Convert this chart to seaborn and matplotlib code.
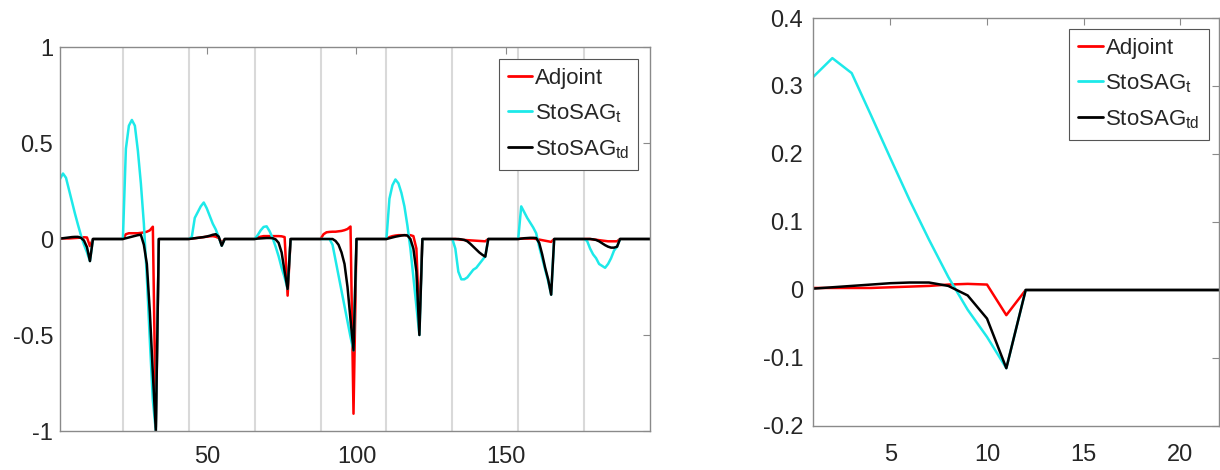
import numpy as np
import pandas as pd
import matplotlib
matplotlib.use('Agg')
import matplotlib.pyplot as plt
import seaborn as sns

# Gradients per time step, 9 wells x 22 steps
adjoint = [
    # well 1
    0.003, 0.003, 0.003, 0.003, 0.004, 0.005, 0.006, 0.008, 0.009, 0.008, -0.037, 0, 0, 0, 0, 0, 0, 0, 0, 0, 0, 0,
    # well 2
    0.025, 0.030, 0.030, 0.030, 0.030, 0.032, 0.034, 0.038, 0.045, 0.064, -0.98, 0, 0, 0, 0, 0, 0, 0, 0, 0, 0, 0,
    # well 3
    0.002, 0.004, 0.006, 0.008, 0.010, 0.012, 0.014, 0.015, 0.012, 0.005, -0.020, 0, 0, 0, 0, 0, 0, 0, 0, 0, 0, 0,
    # well 4
    0.008, 0.012, 0.015, 0.015, 0.015, 0.015, 0.015, 0.015, 0.014, 0.010, -0.295, 0, 0, 0, 0, 0, 0, 0, 0, 0, 0, 0,
    # well 5
    0.025, 0.035, 0.037, 0.038, 0.038, 0.040, 0.042, 0.046, 0.052, 0.065, -0.91, 0, 0, 0, 0, 0, 0, 0, 0, 0, 0, 0,
    # well 6
    0.010, 0.015, 0.018, 0.020, 0.020, 0.020, 0.020, 0.020, 0.015, -0.05, -0.45, 0, 0, 0, 0, 0, 0, 0, 0, 0, 0, 0,
    # well 7
    0.0, -0.002, -0.004, -0.005, -0.006, -0.007, -0.008, -0.009, -0.010, -0.011, -0.012, 0, 0, 0, 0, 0, 0, 0, 0, 0, 0, 0,
    # well 8
    0.002, 0.002, 0.002, 0.002, 0.002, 0.0, -0.003, -0.006, -0.009, -0.012, -0.015, 0, 0, 0, 0, 0, 0, 0, 0, 0, 0, 0,
    # well 9
    0.0, 0.0, -0.002, -0.004, -0.006, -0.008, -0.010, -0.012, -0.012, -0.012, -0.012, 0, 0, 0, 0, 0, 0, 0, 0, 0, 0, 0,
]

stosag_t = [
    0.313, 0.341, 0.319, 0.257, 0.194, 0.132, 0.074, 0.019, -0.029, -0.069, -0.115, 0, 0, 0, 0, 0, 0, 0, 0, 0, 0, 0,
    0.47, 0.59, 0.62, 0.59, 0.46, 0.29, 0.08, -0.20, -0.53, -0.84, -1.0, 0, 0, 0, 0, 0, 0, 0, 0, 0, 0, 0,
    0.01, 0.11, 0.14, 0.17, 0.19, 0.16, 0.12, 0.08, 0.05, 0.01, -0.035, 0, 0, 0, 0, 0, 0, 0, 0, 0, 0, 0,
    0.02, 0.045, 0.063, 0.066, 0.04, 0.005, -0.04, -0.09, -0.15, -0.20, -0.26, 0, 0, 0, 0, 0, 0, 0, 0, 0, 0, 0,
    0.0, 0.0, 0.0, -0.03, -0.11, -0.19, -0.27, -0.35, -0.43, -0.51, -0.58, 0, 0, 0, 0, 0, 0, 0, 0, 0, 0, 0,
    0.21, 0.28, 0.31, 0.29, 0.24, 0.17, 0.07, -0.05, -0.20, -0.35, -0.50, 0, 0, 0, 0, 0, 0, 0, 0, 0, 0, 0,
    -0.05, -0.17, -0.21, -0.21, -0.20, -0.18, -0.16, -0.15, -0.13, -0.11, -0.09, 0, 0, 0, 0, 0, 0, 0, 0, 0, 0, 0,
    0.17, 0.14, 0.11, 0.085, 0.06, 0.03, -0.04, -0.10, -0.16, -0.22, -0.29, 0, 0, 0, 0, 0, 0, 0, 0, 0, 0, 0,
    -0.01, -0.05, -0.08, -0.10, -0.13, -0.14, -0.15, -0.13, -0.10, -0.06, -0.04, 0, 0, 0, 0, 0, 0, 0, 0, 0, 0, 0,
]

stosag_td = [
    0.002, 0.004, 0.006, 0.008, 0.010, 0.011, 0.011, 0.006, -0.008, -0.042, -0.115, 0, 0, 0, 0, 0, 0, 0, 0, 0, 0, 0,
    0.004, 0.008, 0.012, 0.016, 0.020, 0.022, -0.03, -0.13, -0.38, -0.70, -1.0, 0, 0, 0, 0, 0, 0, 0, 0, 0, 0, 0,
    0.002, 0.004, 0.006, 0.008, 0.010, 0.013, 0.017, 0.022, 0.025, 0.012, -0.035, 0, 0, 0, 0, 0, 0, 0, 0, 0, 0, 0,
    0.002, 0.003, 0.004, 0.005, 0.005, 0.004, -0.002, -0.02, -0.07, -0.17, -0.26, 0, 0, 0, 0, 0, 0, 0, 0, 0, 0, 0,
    0.0, 0.0, 0.0, 0.0, -0.01, -0.03, -0.07, -0.13, -0.25, -0.42, -0.58, 0, 0, 0, 0, 0, 0, 0, 0, 0, 0, 0,
    0.004, 0.008, 0.012, 0.015, 0.018, 0.020, 0.018, 0.0, -0.05, -0.17, -0.50, 0, 0, 0, 0, 0, 0, 0, 0, 0, 0, 0,
    0.0, 0.0, -0.002, -0.005, -0.012, -0.025, -0.04, -0.055, -0.07, -0.082, -0.092, 0, 0, 0, 0, 0, 0, 0, 0, 0, 0, 0,
    0.002, 0.004, 0.005, 0.006, 0.006, 0.005, -0.02, -0.08, -0.15, -0.21, -0.29, 0, 0, 0, 0, 0, 0, 0, 0, 0, 0, 0,
    0.0, 0.0, -0.002, -0.005, -0.012, -0.022, -0.032, -0.040, -0.045, -0.045, -0.040, 0, 0, 0, 0, 0, 0, 0, 0, 0, 0, 0,
]

n_steps = 22
methods = ['Adjoint', r'StoSAG$_\mathrm{t}$', r'StoSAG$_\mathrm{td}$']
colors = ['#ff0000', '#1de9e9', '#000000']

left_yticks = [-1, -0.5, 0, 0.5, 1]
left_xticks = [50, 100, 150]
right_yticks = [-0.2, -0.1, 0, 0.1, 0.2, 0.3, 0.4]
right_xticks = [5, 10, 15, 20]

sns.set_style('white')
plt.rcParams['font.family'] = ['Liberation Sans', 'DejaVu Sans']
plt.rcParams['mathtext.fontset'] = 'custom'
plt.rcParams['mathtext.rm'] = 'Liberation Sans'
plt.rcParams['mathtext.it'] = 'Liberation Sans:italic'
plt.rcParams['axes.unicode_minus'] = False


def long_frame(series, n=None):
    rows = []
    for name, vals in zip(methods, series):
        vals = vals if n is None else vals[:n]
        rows.append(pd.DataFrame({'step': np.arange(1, len(vals) + 1), 'value': vals, 'method': name}))
    return pd.concat(rows, ignore_index=True)


def style_axes(ax, xticks, yticks, xlim, ylim, xpad, ypad, legend_anchor):
    ax.set_xlim(*xlim)
    ax.set_ylim(*ylim)
    ax.set_xticks(xticks)
    ax.set_xticklabels([f'{v:g}' for v in xticks])
    ax.set_yticks(yticks)
    ax.set_yticklabels([f'{v:g}' for v in yticks])
    ax.set_xlabel('')
    ax.set_ylabel('')
    for sp in ax.spines.values():
        sp.set_visible(True)
        sp.set_color('#8a8a8a')
        sp.set_linewidth(1.0)
    ax.tick_params(axis='both', direction='in', length=5, width=0.8, color='#8a8a8a',
                   labelsize=17, labelcolor='#262626', top=True, right=True)
    ax.tick_params(axis='x', pad=xpad)
    ax.tick_params(axis='y', pad=ypad)
    handles, labels = ax.get_legend_handles_labels()
    leg = ax.legend(handles, labels, loc='upper right', bbox_to_anchor=legend_anchor,
                    fontsize=16, frameon=True, fancybox=False, framealpha=1,
                    edgecolor='#555555', handlelength=1.1, handletextpad=0.12,
                    borderpad=0.4, labelspacing=0.6, borderaxespad=0)
    leg.get_frame().set_linewidth(0.8)
    for h in leg.get_lines():
        h.set_linewidth(2)


fig = plt.figure(figsize=(12.2, 4.7), dpi=100)
ax1 = fig.add_axes([60 / 1220, 39 / 470, 590 / 1220, 384 / 470])
ax2 = fig.add_axes([813 / 1220, 44 / 470, 406 / 1220, 408 / 470])

series = [adjoint, stosag_t, stosag_td]

# left: all wells
for b in range(n_steps, len(adjoint), n_steps):
    ax1.axvline(b, color='#d9d9d9', linewidth=1.5, zorder=0)
sns.lineplot(data=long_frame(series), x='step', y='value', hue='method', hue_order=methods,
             palette=colors, linewidth=1.8, estimator=None, sort=False, ax=ax1)
style_axes(ax1, left_xticks, left_yticks, (1, len(adjoint)), (-1, 1), 11, 5, (0.98, 0.969))

# right: first well only
sns.lineplot(data=long_frame(series, n_steps), x='step', y='value', hue='method', hue_order=methods,
             palette=colors, linewidth=1.8, estimator=None, sort=False, ax=ax2)
style_axes(ax2, right_xticks, right_yticks, (1, n_steps), (-0.2, 0.4), 13, 7, (0.975, 0.973))

fig.savefig('out.png', dpi=100)
